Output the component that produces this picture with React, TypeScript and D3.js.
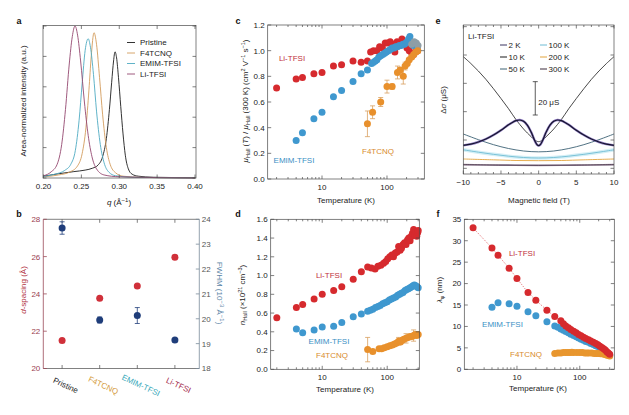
import React from 'react';
import * as d3 from 'd3';

type P = [number, number];
type PE = [number, number, number];

const FONT = '"Liberation Sans", Arial, Helvetica, sans-serif';
const FS = 8;

// ---------------- Panel a ----------------
const qTicks = [0.2, 0.25, 0.3, 0.35, 0.4];
const aYTicks = [0, 0.2, 0.4, 0.6, 0.8, 1.0];
const aNames = ['Pristine', 'F4TCNQ', 'EMIM-TFSI', 'Li-TFSI'];
const aColors = ['#1c1c1c', '#d29c5c', '#4eaac2', '#94476f'];
const aPristine: P[] = [[0.2, 0.012], [0.22, 0.028], [0.24, 0.042], [0.255, 0.052], [0.265, 0.065], [0.272, 0.085], [0.278, 0.14], [0.283, 0.26], [0.287, 0.45], [0.29, 0.63], [0.2925, 0.77], [0.2944, 0.83], [0.2965, 0.79], [0.299, 0.66], [0.302, 0.47], [0.305, 0.29], [0.308, 0.15], [0.312, 0.06], [0.317, 0.025], [0.325, 0.012], [0.345, 0.005], [0.4, 0.002]];
const aF4TCNQ: P[] = [[0.2, 0.008], [0.22, 0.02], [0.235, 0.04], [0.245, 0.08], [0.251, 0.16], [0.256, 0.33], [0.26, 0.58], [0.263, 0.8], [0.2667, 0.956], [0.27, 0.88], [0.274, 0.66], [0.278, 0.42], [0.283, 0.2], [0.288, 0.09], [0.295, 0.035], [0.305, 0.012], [0.33, 0.004], [0.4, 0.0]];
const aEMIM: P[] = [[0.2, 0.01], [0.215, 0.025], [0.228, 0.05], [0.236, 0.09], [0.242, 0.18], [0.247, 0.38], [0.251, 0.62], [0.255, 0.84], [0.259, 0.916], [0.262, 0.86], [0.266, 0.68], [0.27, 0.44], [0.275, 0.22], [0.28, 0.1], [0.286, 0.04], [0.295, 0.015], [0.32, 0.005], [0.4, 0.0]];
const aLiTFSI: P[] = [[0.2, 0.015], [0.21, 0.04], [0.218, 0.09], [0.224, 0.22], [0.229, 0.45], [0.234, 0.75], [0.238, 0.93], [0.2416, 1.0], [0.245, 0.94], [0.249, 0.77], [0.254, 0.5], [0.259, 0.28], [0.264, 0.14], [0.27, 0.06], [0.28, 0.02], [0.3, 0.008], [0.4, 0.0]];

// ---------------- Panel b ----------------
const bCats = ['Pristine', 'F4TCNQ', 'EMIM-TFSI', 'Li-TFSI'];
const bCatColors = ['#1a1a1a', '#d49a3a', '#3aa9ba', '#a3284a'];
const bDspacing = [21.5, 23.77, 24.43, 25.97];
const bFWHM = [23.65, 19.95, 20.13, 19.15];
const bFWHMerr = [0.25, 0.12, 0.32, 0.0];
const bLeftTicks = [20, 22, 24, 26, 28];
const bRightTicks = [18, 19, 20, 21, 22, 23, 24];

// ---------------- Panel c ----------------
const cYTicks = [0, 0.2, 0.4, 0.6, 0.8, 1.0, 1.2];
const cLiTFSI: P[] = [[2, 0.71], [4, 0.78], [5, 0.79], [7.5, 0.82], [10, 0.83], [15, 0.88], [20, 0.89], [30, 0.92], [40, 0.91], [50, 0.92], [56, 0.99], [62, 1.0], [70, 1.0], [77, 1.03], [85, 1.02], [94, 1.06], [103, 1.06], [112, 1.07], [122, 1.05], [132, 0.99], [143, 1.07], [155, 1.04], [170, 1.09], [185, 1.05], [203, 1.02], [220, 1.0], [240, 0.98], [256, 0.97], [275, 0.99], [295, 1.0]];
const cEMIM: P[] = [[4, 0.3], [5, 0.36], [7.5, 0.47], [10, 0.52], [15, 0.64], [20, 0.69], [30, 0.76], [40, 0.82], [50, 0.85], [58, 0.9], [62, 0.91], [66, 0.92], [70, 0.93], [75, 0.95], [80, 0.96], [86, 0.97], [92, 0.98], [98, 0.99], [105, 1.0], [112, 1.01], [120, 1.02], [128, 1.02], [136, 1.03], [145, 1.03], [155, 1.04], [165, 1.04], [175, 1.05], [185, 1.05], [195, 1.06], [205, 1.07], [215, 1.09], [225, 1.11], [235, 1.07], [245, 1.05], [255, 1.04], [265, 1.05], [280, 1.04], [295, 1.03]];
const cGray: P[] = [[240, 1.05], [262, 1.07], [282, 1.06], [300, 1.04]];
const cF4TCNQ: PE[] = [[50, 0.43, 0.1], [60, 0.52, 0.05], [80, 0.6, 0.035], [100, 0.72, 0.05], [120, 0.72, 0.02], [145, 0.83, 0.05], [160, 0.85, 0], [178, 0.8, 0.06], [190, 0.88, 0.03], [205, 0.9, 0], [220, 0.93, 0], [240, 0.95, 0], [258, 0.97, 0], [278, 0.99, 0], [298, 1.0, 0]];

// ---------------- Panel d ----------------
const dYTicks = [0, 0.2, 0.4, 0.6, 0.8, 1.0, 1.2, 1.4, 1.6];
const dLiTFSI: P[] = [[2, 0.55], [4, 0.66], [5, 0.69], [7.5, 0.75], [10, 0.8], [15, 0.84], [20, 0.88], [30, 0.96], [40, 1.04], [50, 1.09], [57, 1.08], [65, 1.07], [72, 1.1], [80, 1.11], [88, 1.13], [95, 1.15], [102, 1.18], [110, 1.2], [118, 1.22], [125, 1.2], [133, 1.24], [142, 1.25], [150, 1.31], [158, 1.27], [166, 1.29], [175, 1.33], [185, 1.35], [195, 1.33], [205, 1.38], [215, 1.4], [225, 1.37], [235, 1.42], [245, 1.45], [255, 1.49], [265, 1.44], [275, 1.47], [285, 1.42], [295, 1.46], [300, 1.48]];
const dEMIM: P[] = [[4, 0.43], [5, 0.39], [7.5, 0.42], [10, 0.45], [15, 0.46], [20, 0.5], [30, 0.56], [40, 0.59], [50, 0.62], [55, 0.63], [60, 0.64], [66, 0.66], [72, 0.67], [78, 0.68], [85, 0.7], [92, 0.71], [100, 0.72], [108, 0.74], [116, 0.75], [125, 0.76], [135, 0.77], [145, 0.79], [155, 0.8], [165, 0.81], [175, 0.82], [188, 0.84], [200, 0.85], [212, 0.86], [225, 0.87], [238, 0.88], [250, 0.89], [262, 0.9], [275, 0.89], [288, 0.88], [300, 0.87]];
const dF4TCNQ: PE[] = [[50, 0.21, 0.13], [60, 0.19, 0], [75, 0.22, 0], [82, 0.22, 0], [90, 0.23, 0], [100, 0.24, 0], [110, 0.25, 0], [120, 0.26, 0], [130, 0.27, 0], [140, 0.28, 0], [150, 0.3, 0.04], [160, 0.29, 0], [170, 0.31, 0], [180, 0.32, 0], [195, 0.33, 0.05], [210, 0.34, 0], [225, 0.35, 0], [240, 0.35, 0], [255, 0.36, 0.06], [270, 0.37, 0], [285, 0.36, 0], [300, 0.37, 0]];

// ---------------- Panel e ----------------
const eXTicks = [-10, -5, 0, 5, 10];
const eXMinor = [-9, -8, -7, -6, -4, -3, -2, -1, 1, 2, 3, 4, 6, 7, 8, 9];
const eYTicks = [3.4, 20.4, 37.4, 54.4, 71.4, 88.4];
const eTemps = ['2 K', '10 K', '50 K', '100 K', '200 K', '300 K'];
const eColors = ['#3a3560', '#1a1a1a', '#3d6275', '#6fbcd4', '#e3a43c', '#3a2a3a'];
const e2K: P[] = [[-10, 17.2], [-9, 17.9], [-8, 19.2], [-7, 21.0], [-6, 23.4], [-5, 26.3], [-4, 29.5], [-3.5, 30.9], [-3, 32.0], [-2.5, 32.4], [-2, 31.6], [-1.5, 29.3], [-1, 25.2], [-0.75, 22.5], [-0.5, 19.8], [-0.25, 17.8], [0, 17.0], [0.25, 17.8], [0.5, 19.8], [0.75, 22.5], [1, 25.2], [1.5, 29.3], [2, 31.6], [2.5, 32.4], [3, 32.0], [3.5, 30.9], [4, 29.5], [5, 26.3], [6, 23.4], [7, 21.0], [8, 19.2], [9, 17.9], [10, 17.2]];
const e10K: P[] = [[-10, 70.4], [-9, 66.3], [-8, 61.8], [-7, 56.8], [-6, 51.2], [-5, 45.3], [-4, 39.2], [-3, 32.6], [-2, 27.0], [-1.5, 24.6], [-1, 22.4], [-0.5, 20.3], [0, 19.4], [0.5, 20.3], [1, 22.4], [1.5, 24.6], [2, 27.0], [3, 32.6], [4, 39.2], [5, 45.3], [6, 51.2], [7, 56.8], [8, 61.8], [9, 66.3], [10, 70.4]];
const e50K: P[] = [[-10, 24.0], [-8, 20.6], [-6, 17.6], [-4, 15.3], [-2, 13.8], [0, 13.3], [2, 13.8], [4, 15.3], [6, 17.6], [8, 20.6], [10, 24.0]];
const e100K: P[] = [[-10, 14.5], [-8, 13.1], [-6, 11.8], [-4, 10.7], [-2, 9.9], [0, 9.6], [2, 9.9], [4, 10.7], [6, 11.8], [8, 13.1], [10, 14.5]];
const e200K: P[] = [[-10, 9.0], [-6, 8.5], [-3, 8.1], [0, 8.0], [3, 8.1], [6, 8.5], [10, 9.0]];
const e300K: P[] = [[-10, 5.6], [-5, 5.35], [0, 5.2], [5, 5.35], [10, 5.6]];
const eScaleBar: P = [35.4, 55.4];

// ---------------- Panel f ----------------
const fYTicks = [0, 5, 10, 15, 20, 25, 30, 35];
const fLiTFSI: P[] = [[2, 33], [4, 28.3], [5, 26.6], [7.5, 23.6], [10, 21.2], [15, 17.9], [20, 16.1], [30, 13.8], [40, 12.3], [50, 11.3], [55, 10.6], [60, 10.1], [66, 9.7], [72, 9.3], [80, 8.9], [88, 8.5], [96, 8.1], [105, 7.8], [115, 7.5], [125, 7.2], [138, 6.9], [150, 6.6], [165, 6.3], [180, 6.0], [195, 5.7], [210, 5.4], [225, 5.1], [240, 4.8], [255, 4.5], [270, 4.1], [285, 3.8], [300, 3.5]];
const fEMIM: P[] = [[4, 14.5], [5, 15.5], [7.5, 15.3], [10, 14.7], [15, 13.4], [20, 12.5], [30, 11.1], [40, 10.1], [45, 9.8], [50, 9.4], [55, 9.1], [60, 8.8], [66, 8.5], [72, 8.2], [80, 7.9], [88, 7.6], [96, 7.3], [105, 7.0], [115, 6.8], [125, 6.5], [138, 6.3], [150, 6.0], [165, 5.8], [180, 5.5], [195, 5.3], [210, 5.0], [225, 4.8], [240, 4.5], [255, 4.2], [270, 3.9], [285, 3.6], [300, 3.3]];
const fF4TCNQ: P[] = [[40, 3.7], [45, 3.8], [50, 3.8], [55, 3.9], [60, 3.9], [65, 3.9], [70, 3.9], [75, 4.0], [80, 3.9], [90, 3.9], [100, 3.9], [110, 3.9], [120, 3.8], [130, 3.8], [140, 3.8], [155, 3.8], [170, 3.7], [185, 3.7], [200, 3.7], [215, 3.6], [230, 3.6], [245, 3.5], [260, 3.4], [275, 3.3], [290, 3.2], [300, 3.1]];

// ---------------- colours ----------------
const RED = '#d62a2e';
const BLUE = '#3f98cf';
const ORANGE = '#e8902c';
const ERR = '#d8a060';
const RED_T = '#c0303a';
const BLUE_T = '#3a8fc4';
const ORANGE_T = '#d88a2e';
const AX = '#4a4a4a';
const R = 3.5;

type Frame = { x0: number; x1: number; y0: number; y1: number };

function FrameBox({ f, xMaj, xMin = [], yMaj, yMin = [], stroke = AX }: { f: Frame; xMaj: number[]; xMin?: number[]; yMaj: number[]; yMin?: number[]; stroke?: string }) {
  const TK = 3.5, TM = 2;
  const lines: JSX.Element[] = [];
  xMaj.forEach((x, i) => {
    lines.push(<line key={'xb' + i} x1={x} x2={x} y1={f.y1} y2={f.y1 - TK} />);
    lines.push(<line key={'xt' + i} x1={x} x2={x} y1={f.y0} y2={f.y0 + TK} />);
  });
  xMin.forEach((x, i) => {
    lines.push(<line key={'xbm' + i} x1={x} x2={x} y1={f.y1} y2={f.y1 - TM} />);
    lines.push(<line key={'xtm' + i} x1={x} x2={x} y1={f.y0} y2={f.y0 + TM} />);
  });
  yMaj.forEach((y, i) => {
    lines.push(<line key={'yl' + i} x1={f.x0} x2={f.x0 + TK} y1={y} y2={y} />);
    lines.push(<line key={'yr' + i} x1={f.x1} x2={f.x1 - TK} y1={y} y2={y} />);
  });
  yMin.forEach((y, i) => {
    lines.push(<line key={'ylm' + i} x1={f.x0} x2={f.x0 + TM} y1={y} y2={y} />);
    lines.push(<line key={'yrm' + i} x1={f.x1} x2={f.x1 - TM} y1={y} y2={y} />);
  });
  return (
    <g stroke={stroke} strokeWidth={0.7} fill="none">
      <rect x={f.x0} y={f.y0} width={f.x1 - f.x0} height={f.y1 - f.y0} />
      {lines}
    </g>
  );
}

function logMinor(s: d3.ScaleLogarithmic<number, number>) {
  return s.ticks().filter((t) => Math.abs(Math.log10(t) - Math.round(Math.log10(t))) > 1e-6).map((t) => s(t));
}

function Dots({ data, x, y, color, r = R }: { data: P[]; x: (v: number) => number; y: (v: number) => number; color: string; r?: number }) {
  return (
    <g fill={color}>
      {data.map((d, i) => (
        <circle key={i} cx={x(d[0])} cy={y(d[1])} r={r} />
      ))}
    </g>
  );
}

function ErrDots({ data, x, y, color, r = R }: { data: PE[]; x: (v: number) => number; y: (v: number) => number; color: string; r?: number }) {
  return (
    <g>
      <g stroke={ERR} strokeWidth={0.8}>
        {data.filter((d) => d[2] > 0).map((d, i) => {
          const cx = x(d[0]);
          return (
            <g key={i}>
              <line x1={cx} x2={cx} y1={y(d[1] - d[2])} y2={y(d[1] + d[2])} />
              <line x1={cx - 2.5} x2={cx + 2.5} y1={y(d[1] - d[2])} y2={y(d[1] - d[2])} />
              <line x1={cx - 2.5} x2={cx + 2.5} y1={y(d[1] + d[2])} y2={y(d[1] + d[2])} />
            </g>
          );
        })}
      </g>
      <g fill={color}>
        {data.map((d, i) => (
          <circle key={i} cx={x(d[0])} cy={y(d[1])} r={r} />
        ))}
      </g>
    </g>
  );
}

const T = (props: any) => <text fontFamily={FONT} fontSize={FS} fill="#222" {...props} />;

function PanelLetter({ x, y, t }: { x: number; y: number; t: string }) {
  return (
    <text x={x} y={y} fontFamily={FONT} fontSize={9} fontWeight="bold" fill="#111" textAnchor="middle">
      {t}
    </text>
  );
}

export default function App() {
  // ---- Panel a ----
  const fa: Frame = { x0: 43, x1: 196, y0: 25.5, y1: 178 };
  const ax = d3.scaleLinear().domain([0.2, 0.4]).range([43.5, 195]);
  const ay = d3.scaleLinear().domain([0, 1]).range([178, 26]);
  const aLine = d3.line<P>().x((d) => ax(d[0])).y((d) => ay(d[1])).curve(d3.curveMonotoneX);
  const aSeries = [aPristine, aF4TCNQ, aEMIM, aLiTFSI];

  // ---- Panel b ----
  const fb: Frame = { x0: 43.3, x1: 199.3, y0: 219.3, y1: 368.5 };
  const bx = d3.scalePoint<string>().domain(bCats).range([43.3, 193.7]).padding(0.5);
  const byL = d3.scaleLinear().domain([20, 28]).range([368.5, 219.3]);
  const byR = d3.scaleLinear().domain([18, 24]).range([368.5, 219.3]);

  // ---- Panel c ----
  const fc: Frame = { x0: 267.7, x1: 424.3, y0: 25, y1: 179 };
  const cx = d3.scaleLog().domain([1.46, 375]).range([fc.x0, fc.x1]);
  const cy = d3.scaleLinear().domain([0, 1.2]).range([fc.y1, fc.y0]);

  // ---- Panel d ----
  const fd: Frame = { x0: 270.7, x1: 419.3, y0: 219.3, y1: 369.3 };
  const dx = d3.scaleLog().domain([1.61, 312]).range([fd.x0, fd.x1]);
  const dy = d3.scaleLinear().domain([0, 1.6]).range([fd.y1, fd.y0]);

  // ---- Panel e ----
  const fe: Frame = { x0: 463.3, x1: 614, y0: 25, y1: 174 };
  const ex = d3.scaleLinear().domain([-10, 10]).range([fe.x0, fe.x1]);
  const ey = d3.scaleLinear().domain([0, 89.4]).range([fe.y1, fe.y0]);
  const eLine = d3.line<P>().x((d) => ex(d[0])).y((d) => ey(d[1])).curve(d3.curveCatmullRom.alpha(0.5));

  // ---- Panel f ----
  const ff: Frame = { x0: 464.3, x1: 614.3, y0: 219.3, y1: 369.3 };
  const fx = d3.scaleLog().domain([1.45, 355]).range([ff.x0, ff.x1]);
  const fy = d3.scaleLinear().domain([0, 35]).range([ff.y1, ff.y0]);
  const fLine = d3.line<P>().x((d) => fx(d[0])).y((d) => fy(d[1]));

  const f1 = d3.format('.1f');
  const f2 = d3.format('.2f');
  const logMaj = [10, 100];

  return (
    <svg width={629} height={415} style={{ position: 'absolute', left: 0, top: 0, background: '#fff' }} xmlns="http://www.w3.org/2000/svg">
      <rect x={0} y={0} width={629} height={415} fill="#fff" />

      {/* ================= Panel a ================= */}
      <PanelLetter x={19} y={24} t="a" />
      {aSeries.map((s, i) => (
        <path key={i} d={aLine(s) || ''} fill="none" stroke={aColors[i]} strokeWidth={0.9} />
      ))}
      <FrameBox f={fa} xMaj={qTicks.map(ax)} yMaj={aYTicks.map(ay)} />
      {qTicks.map((q, i) => (
        <T key={i} x={ax(q)} y={fa.y1 + 11} textAnchor="middle">{f2(q)}</T>
      ))}
      <T x={119} y={205} textAnchor="middle">
        <tspan fontStyle="italic">q</tspan> (Å<tspan fontSize={6} dy={-3}>−1</tspan><tspan dy={3}>)</tspan>
      </T>
      <T transform="translate(26,101) rotate(-90)" textAnchor="middle">Area-normalized intensity (a.u.)</T>
      {aNames.map((n, i) => (
        <g key={i}>
          <line x1={127} x2={135} y1={42.5 + i * 10.5} y2={42.5 + i * 10.5} stroke={aColors[i]} strokeWidth={0.9} />
          <T x={140} y={42.5 + i * 10.5 + 2.9}>{n}</T>
        </g>
      ))}

      {/* ================= Panel b ================= */}
      <PanelLetter x={19} y={217} t="b" />
      <g stroke={AX} strokeWidth={0.7}>
        <line x1={fb.x0} x2={fb.x1} y1={fb.y0} y2={fb.y0} />
        <line x1={fb.x0} x2={fb.x1} y1={fb.y1} y2={fb.y1} />
        {bCats.map((c, i) => (
          <g key={i}>
            <line x1={bx(c)!} x2={bx(c)!} y1={fb.y1} y2={fb.y1 - 3.5} />
            <line x1={bx(c)!} x2={bx(c)!} y1={fb.y0} y2={fb.y0 + 3.5} />
          </g>
        ))}
      </g>
      <g stroke="#9a4a58" strokeWidth={0.8}>
        <line x1={fb.x0} x2={fb.x0} y1={fb.y0} y2={fb.y1} />
        {bLeftTicks.map((t, i) => (
          <line key={i} x1={fb.x0} x2={fb.x0 + 3.5} y1={byL(t)} y2={byL(t)} />
        ))}
      </g>
      <g stroke="#7a8c9a" strokeWidth={0.8}>
        <line x1={fb.x1} x2={fb.x1} y1={fb.y0} y2={fb.y1} />
        {bRightTicks.map((t, i) => (
          <line key={i} x1={fb.x1} x2={fb.x1 - 3.5} y1={byR(t)} y2={byR(t)} />
        ))}
      </g>
      {bLeftTicks.map((t, i) => (
        <T key={i} x={fb.x0 - 3} y={byL(t) + 2.9} textAnchor="end" fill="#9a4050">{t}</T>
      ))}
      {bRightTicks.map((t, i) => (
        <T key={i} x={fb.x1 + 2.5} y={byR(t) + 2.9} fill="#555">{t}</T>
      ))}
      <T transform="translate(25.5,290) rotate(-90)" textAnchor="middle" fill="#b03040">
        <tspan fontStyle="italic">d</tspan>-spacing (Å)
      </T>
      <T transform="translate(217,293) rotate(90)" textAnchor="middle" fill="#5a84a6">
        FWHM (10<tspan fontSize={6} dy={-3}>−3</tspan><tspan dy={3}> Å</tspan><tspan fontSize={6} dy={-3}>−1</tspan><tspan dy={3}>)</tspan>
      </T>
      {bCats.map((c, i) => (
        <T key={i} transform={`translate(${bx(c)! + 3.5},385.5) rotate(25)`} textAnchor="middle" dominantBaseline="central" fill={bCatColors[i]}>{c}</T>
      ))}
      {bCats.map((c, i) => (
        <circle key={'r' + i} cx={bx(c)!} cy={byL(bDspacing[i])} r={3.5} fill="#d0303a" />
      ))}
      <g stroke="#1f3d7a" strokeWidth={0.8}>
        {bCats.map((c, i) =>
          bFWHMerr[i] > 0 ? (
            <g key={i}>
              <line x1={bx(c)!} x2={bx(c)!} y1={byR(bFWHM[i] - bFWHMerr[i])} y2={byR(bFWHM[i] + bFWHMerr[i])} />
              <line x1={bx(c)! - 2.5} x2={bx(c)! + 2.5} y1={byR(bFWHM[i] - bFWHMerr[i])} y2={byR(bFWHM[i] - bFWHMerr[i])} />
              <line x1={bx(c)! - 2.5} x2={bx(c)! + 2.5} y1={byR(bFWHM[i] + bFWHMerr[i])} y2={byR(bFWHM[i] + bFWHMerr[i])} />
            </g>
          ) : null
        )}
      </g>
      {bCats.map((c, i) => (
        <circle key={'b' + i} cx={bx(c)!} cy={byR(bFWHM[i])} r={3.5} fill="#1f3d7a" />
      ))}

      {/* ================= Panel c ================= */}
      <PanelLetter x={238} y={24} t="c" />
      <Dots data={cLiTFSI} x={cx} y={cy} color={RED} />
      <Dots data={cEMIM} x={cx} y={cy} color={BLUE} />
      <Dots data={cGray} x={cx} y={cy} color="#8e9ea6" />
      <ErrDots data={cF4TCNQ} x={cx} y={cy} color={ORANGE} />
      <FrameBox f={fc} xMaj={logMaj.map((v) => cx(v))} xMin={logMinor(cx)} yMaj={cYTicks.map(cy)} />
      {logMaj.map((v, i) => (
        <T key={i} x={cx(v)} y={fc.y1 + 11} textAnchor="middle">{v}</T>
      ))}
      {cYTicks.map((v, i) => (
        <T key={i} x={fc.x0 - 3} y={cy(v) + 2.9} textAnchor="end">{f1(v)}</T>
      ))}
      <T x={346} y={203} textAnchor="middle">Temperature (K)</T>
      <T transform="translate(248,101) rotate(-90)" textAnchor="middle">
        <tspan fontStyle="italic">μ</tspan><tspan fontSize={5.5} dy={2}>Hall</tspan><tspan dy={-2}> (</tspan><tspan fontStyle="italic">T</tspan><tspan>) / </tspan><tspan fontStyle="italic">μ</tspan><tspan fontSize={5.5} dy={2}>Hall</tspan><tspan dy={-2}> (300 K) (cm</tspan><tspan fontSize={5.5} dy={-3}>2</tspan><tspan dy={3}> V</tspan><tspan fontSize={5.5} dy={-3}>−1</tspan><tspan dy={3}> s</tspan><tspan fontSize={5.5} dy={-3}>−1</tspan><tspan dy={3}>)</tspan>
      </T>
      <T x={292} y={61} textAnchor="middle" fill={RED_T}>Li-TFSI</T>
      <T x={294} y={163} textAnchor="middle" fill={BLUE_T}>EMIM-TFSI</T>
      <T x={378} y={153.5} textAnchor="middle" fill={ORANGE_T}>F4TCNQ</T>

      {/* ================= Panel d ================= */}
      <PanelLetter x={238} y={217} t="d" />
      <Dots data={dLiTFSI} x={dx} y={dy} color={RED} />
      <Dots data={dEMIM} x={dx} y={dy} color={BLUE} />
      <ErrDots data={dF4TCNQ} x={dx} y={dy} color={ORANGE} />
      <FrameBox f={fd} xMaj={logMaj.map((v) => dx(v))} xMin={logMinor(dx)} yMaj={dYTicks.map(dy)} />
      {logMaj.map((v, i) => (
        <T key={i} x={dx(v)} y={fd.y1 + 11} textAnchor="middle">{v}</T>
      ))}
      {dYTicks.map((v, i) => (
        <T key={i} x={fd.x0 - 3} y={dy(v) + 2.9} textAnchor="end">{f1(v)}</T>
      ))}
      <T x={345} y={392} textAnchor="middle">Temperature (K)</T>
      <T transform="translate(245,295) rotate(-90)" textAnchor="middle">
        <tspan fontStyle="italic">n</tspan><tspan fontSize={5.5} dy={2}>Hall</tspan><tspan dy={-2}> (×10</tspan><tspan fontSize={5.5} dy={-3}>21</tspan><tspan dy={3}> cm</tspan><tspan fontSize={5.5} dy={-3}>−3</tspan><tspan dy={3}>)</tspan>
      </T>
      <T x={329} y={278} textAnchor="middle" fill={RED_T}>Li-TFSI</T>
      <T x={329} y={344} textAnchor="middle" fill={BLUE_T}>EMIM-TFSI</T>
      <T x={332} y={358} textAnchor="middle" fill={ORANGE_T}>F4TCNQ</T>

      {/* ================= Panel e ================= */}
      <PanelLetter x={438} y={24} t="e" />
      <path d={eLine(e300K) || ''} fill="none" stroke="#6a4a70" strokeWidth={1.6} opacity={0.6} />
      <path d={eLine(e300K) || ''} fill="none" stroke={eColors[5]} strokeWidth={0.8} />
      <path d={eLine(e200K) || ''} fill="none" stroke={eColors[4]} strokeWidth={0.9} />
      <path d={eLine(e100K) || ''} fill="none" stroke="#d4eff6" strokeWidth={3.5} />
      <path d={eLine(e100K) || ''} fill="none" stroke={eColors[3]} strokeWidth={0.9} />
      <path d={eLine(e50K) || ''} fill="none" stroke={eColors[2]} strokeWidth={0.9} />
      <path d={eLine(e10K) || ''} fill="none" stroke={eColors[1]} strokeWidth={0.8} />
      <path d={eLine(e2K) || ''} fill="none" stroke="#6a4fb0" strokeWidth={2.4} opacity={0.75} />
      <path d={eLine(e2K) || ''} fill="none" stroke="#15152a" strokeWidth={1.2} />
      <FrameBox f={fe} xMaj={eXTicks.map(ex)} xMin={eXMinor.map(ex)} yMaj={eYTicks.map(ey)} />
      {eXTicks.map((v, i) => (
        <T key={i} x={ex(v)} y={fe.y1 + 11} textAnchor="middle">{d3.format('')(v)}</T>
      ))}
      <T x={539} y={203} textAnchor="middle">Magnetic field (T)</T>
      <T transform="translate(445.5,100) rotate(-90)" textAnchor="middle">
        Δ<tspan fontStyle="italic">σ</tspan> (μS)
      </T>
      <g stroke="#333" strokeWidth={0.8}>
        <line x1={ex(-0.45)} x2={ex(-0.45)} y1={ey(eScaleBar[0])} y2={ey(eScaleBar[1])} />
        <line x1={ex(-0.45) - 2.5} x2={ex(-0.45) + 2.5} y1={ey(eScaleBar[0])} y2={ey(eScaleBar[0])} />
        <line x1={ex(-0.45) - 2.5} x2={ex(-0.45) + 2.5} y1={ey(eScaleBar[1])} y2={ey(eScaleBar[1])} />
      </g>
      <T x={ex(-0.45) + 3} y={104.5}>20 μS</T>
      <T x={468} y={38.5}>Li-TFSI</T>
      {eTemps.map((t, i) => {
        const col = Math.floor(i / 3);
        const row = i % 3;
        const lx = col === 0 ? 500 : 540;
        const yy = 45 + row * 12;
        return (
          <g key={i}>
            <line x1={lx} x2={lx + 7} y1={yy} y2={yy} stroke={eColors[i]} strokeWidth={1} />
            <T x={lx + 8.5} y={yy + 2.9}>{t}</T>
          </g>
        );
      })}

      {/* ================= Panel f ================= */}
      <PanelLetter x={438} y={217} t="f" />
      <path d={fLine(fLiTFSI) || ''} fill="none" stroke={RED} strokeWidth={0.7} strokeDasharray="1,1.4" />
      <Dots data={fEMIM} x={fx} y={fy} color={BLUE} />
      <Dots data={fF4TCNQ} x={fx} y={fy} color="#e8962e" />
      <Dots data={fLiTFSI} x={fx} y={fy} color={RED} />
      <FrameBox f={ff} xMaj={logMaj.map((v) => fx(v))} xMin={logMinor(fx)} yMaj={fYTicks.map(fy)} />
      {logMaj.map((v, i) => (
        <T key={i} x={fx(v)} y={ff.y1 + 11} textAnchor="middle">{v}</T>
      ))}
      {fYTicks.map((v, i) => (
        <T key={i} x={ff.x0 - 3} y={fy(v) + 2.9} textAnchor="end">{v}</T>
      ))}
      <T x={538} y={391} textAnchor="middle">Temperature (K)</T>
      <T transform="translate(442,290) rotate(-90)" textAnchor="middle">
        <tspan fontStyle="italic">λ</tspan><tspan fontSize={5.5} dy={2}>φ</tspan><tspan dy={-2}> (nm)</tspan>
      </T>
      <T x={522} y={256} textAnchor="middle" fill={RED_T}>Li-TFSI</T>
      <T x={502.5} y={327} textAnchor="middle" fill={BLUE_T}>EMIM-TFSI</T>
      <T x={526} y={357} textAnchor="middle" fill={ORANGE_T}>F4TCNQ</T>
    </svg>
  );
}
